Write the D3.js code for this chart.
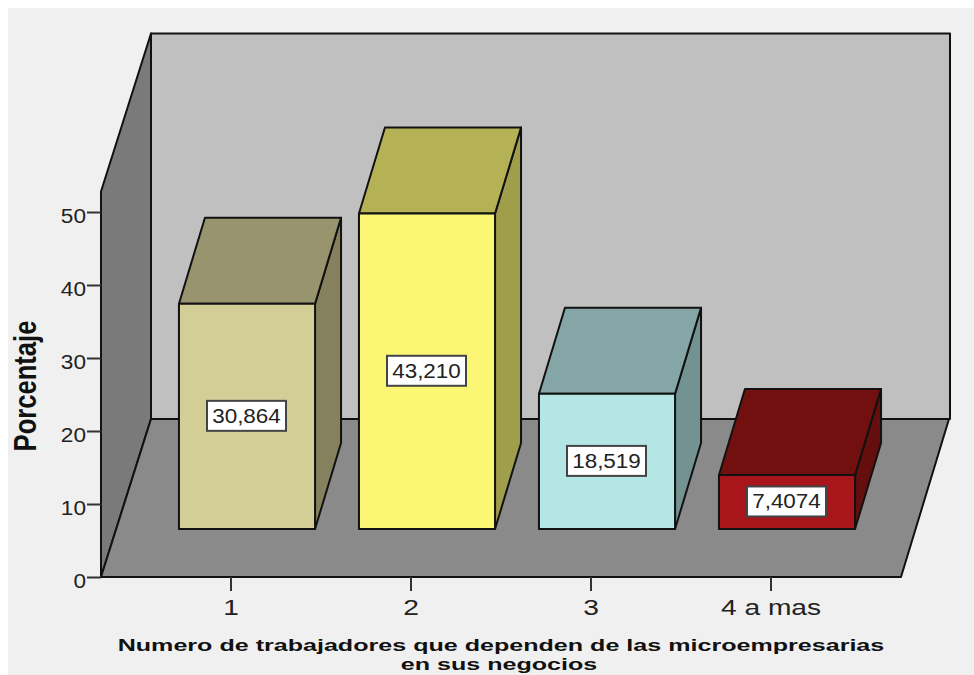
<!DOCTYPE html>
<html>
<head>
<meta charset="utf-8">
<style>
  html, body { margin: 0; padding: 0; background: #fff; }
  svg { display: block; }
</style>
<script src="https://cdn.jsdelivr.net/npm/d3@7"></script>
</head>
<body>
<svg id="chart" width="974" height="675" font-family='"Liberation Sans", Arial, sans-serif'></svg>
<script>
// Survey result: share of microentrepreneurs by number of dependent workers
const categories = ["1", "2", "3", "4 a mas"];
const percentages = [30.864, 43.210, 18.519, 7.4074];
const valueLabels = ["30,864", "43,210", "18,519", "7,4074"];
const yTicks = [0, 10, 20, 30, 40, 50];
const frontColors = ["#d3cd96", "#fbf774", "#b5e6e6", "#a8151a"];
const topColors = ["#98946e", "#b5b255", "#84a6a6", "#72100f"];
const sideColors = ["#85815e", "#a09d4b", "#739292", "#650e0e"];
const xTitleLines = ["Numero de trabajadores que dependen de las microempresarias", "en sus negocios"];

const svg = d3.select("#chart");
const edge = "#111";

// Widens or narrows text horizontally without changing its height
const stretch = (sel, k) => sel.each(function () {
  this.setAttribute("textLength", this.getComputedTextLength() * k);
  this.setAttribute("lengthAdjust", "spacingAndGlyphs");
});

// Panel behind the chart
svg.append("rect").attr("x", 8).attr("y", 8).attr("width", 966).attr("height", 667).attr("fill", "#f0f0f0");

// Scales
const y = d3.scaleLinear().domain([0, 50]).range([577, 212]);
const xTicks = d3.scaleBand().domain(categories).range([141, 861]);
const xBars = d3.scaleBand().domain(categories).range([157, 877]).paddingInner(0.244).paddingOuter(0.122);

// Box geometry: the room and the bars are drawn as oblique projections
const room = { left: 101, right: 901, depthX: 50, depthY: -158, top: y(52.8) };
const barDepth = { x: 26, y: -86 };
const barLift = 48;

const poly = (pts, fill, sw = 2) => svg.append("path")
  .attr("d", d3.line()(pts) + "Z")
  .attr("fill", fill).attr("stroke", edge).attr("stroke-width", sw).attr("stroke-linejoin", "round");

const base = y(0);
const bx = room.left + room.depthX, by = base + room.depthY;
const topBack = room.top + room.depthY;
poly([[bx, topBack], [room.right + room.depthX - 1, topBack], [room.right + room.depthX - 1, by], [bx, by]], "#c0c0c0");
poly([[room.left, base], [room.left, room.top], [bx, topBack], [bx, by]], "#7a7a7a");
poly([[room.left, base], [room.right, base], [room.right + room.depthX - 2, by], [bx, by]], "#8a8a8a");

// Bars: side and top faces first, then the front
categories.forEach((c, i) => {
  const x0 = xBars(c), x1 = x0 + xBars.bandwidth();
  const yb = base - barLift, yt = y(percentages[i]) - barLift;
  const dx = barDepth.x, dy = barDepth.y;
  poly([[x1, yb], [x1, yt], [x1 + dx, yt + dy], [x1 + dx, yb + dy]], sideColors[i]);
  poly([[x0, yt], [x1, yt], [x1 + dx, yt + dy], [x0 + dx, yt + dy]], topColors[i]);
  poly([[x0, yb], [x0, yt], [x1, yt], [x1, yb]], frontColors[i]);
});

// Value labels
categories.forEach((c, i) => {
  const cx = xBars(c) + xBars.bandwidth() / 2 - 0.5;
  const cy = (y(percentages[i]) + base) / 2 - barLift - 0.5;
  svg.append("rect").attr("x", cx - 39.5).attr("y", cy - 15).attr("width", 79).attr("height", 30)
    .attr("fill", "#fff").attr("stroke", "#444").attr("stroke-width", 2);
  svg.append("text").attr("x", cx).attr("y", cy + 7).attr("text-anchor", "middle")
    .attr("font-size", 19.5).attr("fill", "#222").text(valueLabels[i])
    .call(stretch, 1.15);
});

// Axes
const yAxis = svg.append("g").attr("transform", `translate(${room.left},0)`)
  .call(d3.axisLeft(y).tickValues(yTicks).tickSize(14).tickPadding(1).tickFormat(d3.format("d")));
const xAxis = svg.append("g").attr("transform", `translate(0,${base})`)
  .call(d3.axisBottom(xTicks).tickSize(14));
[yAxis, xAxis].forEach(a => {
  a.select(".domain").remove();
  a.selectAll(".tick line").attr("stroke", "#333").attr("stroke-width", 2);
  a.selectAll(".tick text").attr("fill", "#222").attr("dy", 0);
});
yAxis.selectAll(".tick text").attr("y", 10).attr("font-size", 20).call(stretch, 1.13);
xAxis.selectAll(".tick text").attr("y", 38).attr("font-size", 22).call(stretch, 1.28);

// Axis titles
svg.append("text").attr("transform", "translate(36,386) rotate(-90)").attr("text-anchor", "middle")
  .attr("font-size", 32).attr("font-weight", 700).attr("fill", "#111").text("Porcentaje")
  .call(stretch, 0.8);
svg.selectAll(".xtitle").data(xTitleLines).join("text").attr("class", "xtitle")
  .attr("x", (d, i) => 501 - i * 2).attr("y", (d, i) => 651 + i * 19).attr("text-anchor", "middle")
  .attr("font-size", 16.5).attr("font-weight", 700).attr("fill", "#111")
  .text(d => d)
  .call(stretch, 1.52);
</script>
</body>
</html>
